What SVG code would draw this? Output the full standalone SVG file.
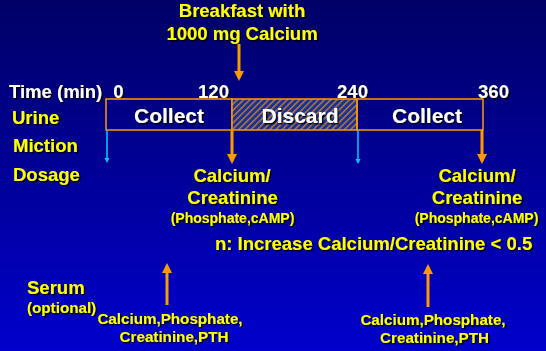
<svg xmlns="http://www.w3.org/2000/svg" width="546" height="351" viewBox="0 0 546 351">
<defs>
<linearGradient id="bg" x1="0" y1="0" x2="0" y2="1">
<stop offset="0" stop-color="#000066"/>
<stop offset="1" stop-color="#0000CC"/>
</linearGradient>
<pattern id="hatch" patternUnits="userSpaceOnUse" width="4.4" height="4.4" patternTransform="rotate(45)">
<rect width="4.4" height="4.4" fill="#18309A"/>
<rect x="0" y="0" width="1.5" height="4.4" fill="#B87830"/>
</pattern>
<filter id="sh" x="-10%" y="-30%" width="120%" height="170%">
<feDropShadow dx="1.5" dy="1.5" stdDeviation="0.4" flood-color="#000000" flood-opacity="0.9"/>
</filter>
<marker id="ao" markerUnits="userSpaceOnUse" markerWidth="11" markerHeight="10" refX="7" refY="5" orient="auto">
<path d="M0,0 L10,5 L0,10 z" fill="#FF9900"/>
</marker>
<marker id="ac" markerUnits="userSpaceOnUse" markerWidth="6" markerHeight="6" refX="3" refY="2.5" orient="auto">
<path d="M0,0 L5,2.5 L0,5 z" fill="#00CCFF"/>
</marker>
</defs>
<style>
text{font-family:"Liberation Sans",Arial,sans-serif;font-weight:bold;filter:url(#sh)}
.y{fill:#FFFF00}
.w{fill:#FFFFFF}
.l{font-size:18.5px}
.s{font-size:15.2px}
.xs{font-size:14px}
.big{font-size:21px}
.m{text-anchor:middle}
.ao{stroke:#FF9900;stroke-width:3;fill:none;marker-end:url(#ao)}
.ac{stroke:#00CCFF;stroke-width:1.5;fill:none;marker-end:url(#ac)}
.box{stroke:#FF9900;stroke-width:1.5}
</style>
<rect width="546" height="351" fill="url(#bg)"/>

<g id="breakfast">
<text class="y l m" x="242" y="17">Breakfast with</text>
<text class="y l m" x="242" y="39.5">1000 mg Calcium</text>
</g>

<g id="time-axis">
<text class="w l" x="9" y="97.5">Time (min)</text>
<text class="w l m" x="118.5" y="97.5">0</text>
<text class="w l m" x="213.5" y="97.5">120</text>
<text class="w l m" x="352.5" y="97.5">240</text>
<text class="w l m" x="493.5" y="97.5">360</text>
</g>

<g id="row-labels">
<text class="y l" x="12" y="123.5">Urine</text>
<text class="y l" x="13" y="152">Miction</text>
<text class="y l" x="13" y="181">Dosage</text>
</g>

<g id="collect-1">
<rect class="box" x="106" y="99" width="126" height="31" fill="none"/>
<text class="w big m" x="169" y="122.5">Collect</text>
</g>
<g id="discard">
<rect class="box" x="232" y="99" width="125" height="31" fill="url(#hatch)"/>
<text class="w big m" x="300" y="123">Discard</text>
</g>
<g id="collect-2">
<rect class="box" x="357" y="99" width="126" height="31" fill="none"/>
<text class="w big m" x="427" y="122.5">Collect</text>
</g>

<g id="dosage-1">
<text class="y l m" x="232" y="181.5">Calcium/</text>
<text class="y l m" x="232.5" y="204">Creatinine</text>
<text class="y xs m" x="232.5" y="223">(Phosphate,cAMP)</text>
</g>
<g id="dosage-2">
<text class="y l m" x="477" y="181.5">Calcium/</text>
<text class="y l m" x="477" y="204">Creatinine</text>
<text class="y xs m" x="476.5" y="223">(Phosphate,cAMP)</text>
</g>

<g id="criterion">
<text class="y l" x="215" y="250">n: Increase Calcium/Creatinine &lt; 0.5</text>
</g>

<g id="serum">
<text class="y l" x="27" y="294">Serum</text>
<text class="y s" x="27" y="313">(optional)</text>
</g>
<g id="serum-1">
<text class="y s m" x="170" y="324">Calcium,Phosphate,</text>
<text class="y s m" x="174" y="342">Creatinine,PTH</text>
</g>
<g id="serum-2">
<text class="y s m" x="433" y="325">Calcium,Phosphate,</text>
<text class="y s m" x="434.5" y="343">Creatinine,PTH</text>
</g>

<g id="connectors">
<line class="ao" x1="239" y1="44" x2="239" y2="78"/>
<line class="ao" x1="232" y1="130" x2="232" y2="161"/>
<line class="ao" x1="482" y1="130" x2="482" y2="161"/>
<line class="ac" x1="107" y1="130" x2="107" y2="161"/>
<line class="ac" x1="358" y1="130" x2="358" y2="162"/>
<line class="ao" x1="167" y1="305" x2="167" y2="266"/>
<line class="ao" x1="428" y1="307" x2="428" y2="267"/>
</g>
</svg>
